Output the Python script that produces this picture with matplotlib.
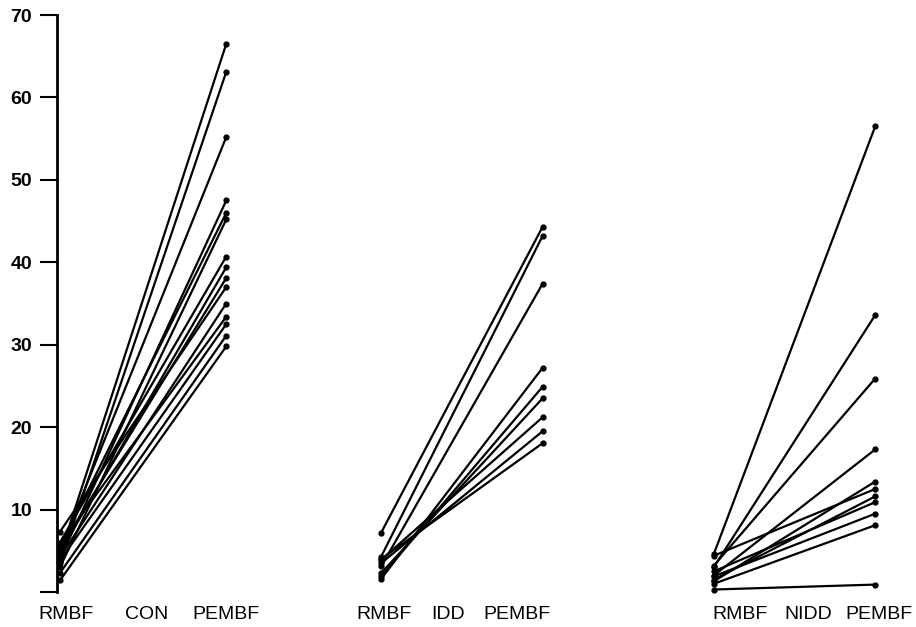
import matplotlib
matplotlib.use("Agg")
import matplotlib.pyplot as plt

plt.rcParams['font.family'] = ['Liberation Sans', 'DejaVu Sans']

# paired values: resting (RMBF) -> post-exercise (PEMBF)
con_rmbf = [4.5, 3.5, 5.0, 4.0, 5.5, 3.0, 6.0, 4.8, 5.2, 7.3, 4.2, 5.8, 3.8, 2.3, 1.4]
con_pembf = [66.5, 63.1, 55.2, 47.5, 46.0, 45.2, 40.7, 39.4, 38.1, 37.0, 35.0, 33.4, 32.5, 31.1, 29.8]

idd_rmbf = [7.2, 4.3, 3.1, 1.6, 1.9, 2.3, 3.9, 3.5, 4.0]
idd_pembf = [44.3, 43.2, 37.4, 27.2, 24.9, 23.5, 21.2, 19.5, 18.05]

nidd_rmbf = [4.6, 3.0, 3.2, 2.0, 1.3, 4.4, 1.5, 2.5, 1.9, 1.0, 0.3]
nidd_pembf = [56.5, 33.6, 25.9, 17.3, 13.4, 12.5, 11.6, 10.9, 9.5, 8.1, 0.9]

groups = [(con_rmbf, con_pembf), (idd_rmbf, idd_pembf), (nidd_rmbf, nidd_pembf)]
group_x = [(0.0, 1.02), (1.97, 2.96), (4.01, 5.0)]

x_labels = ['RMBF', 'CON', 'PEMBF', 'RMBF', 'IDD', 'PEMBF', 'RMBF', 'NIDD', 'PEMBF']
x_label_pos = [0.04, 0.53, 1.02, 1.99, 2.38, 2.80, 4.17, 4.59, 5.02]

fig = plt.figure(figsize=(9.16, 6.27), dpi=100)
ax = fig.add_axes([57 / 916, 35 / 627, 859 / 916, 577 / 627])

for (rm, pe), (x0, x1) in zip(groups, group_x):
    for a, b in zip(rm, pe):
        ax.plot([x0, x1], [a, b], color='black', lw=1.6, marker='o', ms=3.5,
                solid_capstyle='round', clip_on=False)

ax.set_xlim(-0.018, 5.25)
ax.set_ylim(0, 70)
ax.set_yticks(range(0, 71, 10))
ax.set_yticklabels([''] + [str(v) for v in range(10, 71, 10)], fontsize=14, fontweight='bold')
ax.tick_params(axis='y', length=12, width=1.5, pad=6)
ax.set_xticks(x_label_pos)
ax.set_xticklabels(x_labels, fontsize=14)
ax.tick_params(axis='x', length=0, pad=10)

for s in ['top', 'right', 'bottom']:
    ax.spines[s].set_visible(False)
ax.spines['left'].set_linewidth(2)

fig.savefig('out.png', dpi=100)
